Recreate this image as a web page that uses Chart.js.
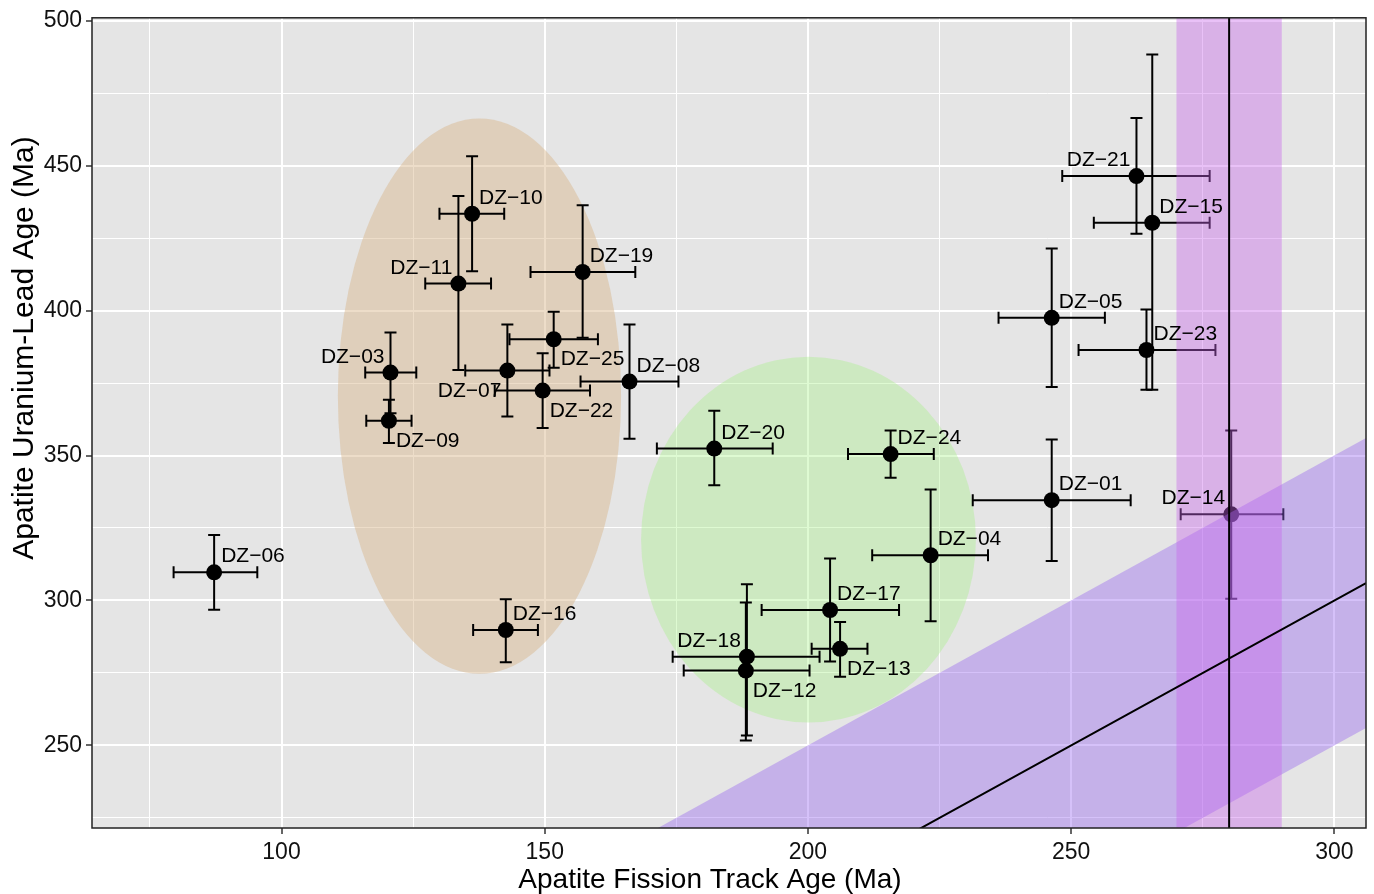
<!DOCTYPE html>
<html>
<head>
<meta charset="utf-8">
<script src="https://cdn.jsdelivr.net/npm/chart.js@4.4.1/dist/chart.umd.min.js"></script>
<style>
  body { margin: 0; background: #fff; }
  canvas { display: block; }
</style>
</head>
<body>
<canvas id="ageChart" width="1374" height="894"></canvas>
<script>
// Sample names and ages (Ma)
const samples = ['DZ−01', 'DZ−03', 'DZ−04', 'DZ−05', 'DZ−06', 'DZ−07', 'DZ−08', 'DZ−09',
                 'DZ−10', 'DZ−11', 'DZ−12', 'DZ−13', 'DZ−14', 'DZ−15', 'DZ−16', 'DZ−17',
                 'DZ−18', 'DZ−19', 'DZ−20', 'DZ−21', 'DZ−22', 'DZ−23', 'DZ−24', 'DZ−25'];
// apatite fission track age with lower / upper error
const aftAge  = [246.3, 120.7, 223.3, 246.3, 87.2, 142.9, 166.1, 120.4, 136.2, 133.6, 188.2, 206.1,
                 280.4, 265.4, 142.6, 204.2, 188.4, 157.2, 182.2, 262.4, 149.6, 264.3, 215.7, 151.7];
const aftLow  = [231.3, 115.9, 212.2, 236.2, 79.5, 134.9, 156.8, 116.1, 130.0, 127.3, 176.4, 200.7,
                 270.8, 254.3, 136.4, 191.2, 174.3, 147.3, 171.3, 248.3, 140.5, 251.4, 207.6, 143.3];
const aftHigh = [261.3, 125.6, 234.2, 256.4, 95.4, 150.9, 175.4, 124.7, 142.3, 139.8, 200.3, 211.3,
                 290.3, 276.3, 148.7, 217.3, 202.2, 167.2, 193.3, 276.3, 158.6, 277.4, 223.9, 160.1];
// apatite U-Pb age with lower / upper error
const upbAge  = [334.6, 378.6, 315.6, 397.5, 309.7, 379.3, 375.5, 362.0, 433.4, 409.3, 275.8, 283.3,
                 329.7, 430.3, 289.8, 296.7, 280.6, 413.3, 352.4, 446.4, 372.4, 386.4, 350.5, 390.1];
const upbLow  = [313.6, 364.6, 292.8, 373.6, 296.8, 363.5, 355.8, 354.3, 413.6, 379.5, 251.7, 273.7,
                 300.6, 372.7, 278.7, 278.9, 253.4, 390.6, 339.7, 426.5, 359.5, 372.7, 342.3, 380.3];
const upbHigh = [355.5, 392.4, 338.3, 421.4, 322.6, 395.2, 395.2, 369.2, 453.2, 439.5, 299.3, 292.6,
                 358.6, 488.3, 300.4, 314.5, 305.6, 436.3, 365.4, 466.4, 385.3, 400.4, 358.6, 399.6];
// which side of the point each name sits on
const labelSide = ['ne', 'nw', 'ne', 'ne', 'ne', 'sw', 'ne', 'se', 'ne', 'nw', 'se', 'se',
                   'nw', 'ne', 'ne', 'ne', 'nw', 'ne', 'ne', 'nw', 'se', 'ne', 'ne', 'se'];

// reference age with its band, and the 1:1 line band width
const refAge = 280;
const refBand = [270, 290];
const oneToOneBand = 50;

// sample groups: [centre AFT, centre U-Pb, half-width AFT, half-height U-Pb]
const groupA = [137.6, 370.5, 26.9, 95.8];
const groupB = [200.1, 321.0, 31.8, 63.1];

const xTicks = [100, 150, 200, 250, 300];
const yTicks = [250, 300, 350, 400, 450, 500];

const FONT = 'Liberation Sans, Arial, Helvetica, sans-serif';

function drawEllipse(ctx, chart, e, colour) {
    const x = chart.scales.x, y = chart.scales.y;
    const cx = x.getPixelForValue(e[0]);
    const cy = y.getPixelForValue(e[1]);
    const rx = Math.abs(x.getPixelForValue(e[0] + e[2]) - cx);
    const ry = Math.abs(y.getPixelForValue(e[1] + e[3]) - cy);
    ctx.fillStyle = colour;
    ctx.beginPath();
    ctx.ellipse(cx, cy, rx, ry, 0, 0, Math.PI * 2);
    ctx.fill();
}

const figurePlugin = {
    id: 'figure',
    beforeDraw(chart) {
        // grey panel
        const { ctx, chartArea: a } = chart;
        ctx.save();
        ctx.fillStyle = '#e5e5e5';
        ctx.fillRect(a.left, a.top, a.right - a.left, a.bottom - a.top);
        ctx.restore();
    },
    beforeDatasetsDraw(chart) {
        const { ctx, chartArea: a } = chart;
        const x = chart.scales.x, y = chart.scales.y;
        ctx.save();
        ctx.beginPath();
        ctx.rect(a.left, a.top, a.right - a.left, a.bottom - a.top);
        ctx.clip();

        // group ellipses
        drawEllipse(ctx, chart, groupA, 'rgba(215, 180, 135, 0.45)');
        drawEllipse(ctx, chart, groupB, 'rgba(160, 240, 125, 0.35)');

        // error bars
        ctx.strokeStyle = '#000';
        ctx.lineWidth = 2;
        const cap = 6;
        for (let i = 0; i < samples.length; i++) {
            const px = x.getPixelForValue(aftAge[i]);
            const py = y.getPixelForValue(upbAge[i]);
            const x0 = x.getPixelForValue(aftLow[i]), x1 = x.getPixelForValue(aftHigh[i]);
            const y0 = y.getPixelForValue(upbLow[i]), y1 = y.getPixelForValue(upbHigh[i]);
            ctx.beginPath();
            ctx.moveTo(x0, py); ctx.lineTo(x1, py);
            ctx.moveTo(x0, py - cap); ctx.lineTo(x0, py + cap);
            ctx.moveTo(x1, py - cap); ctx.lineTo(x1, py + cap);
            ctx.moveTo(px, y0); ctx.lineTo(px, y1);
            ctx.moveTo(px - cap, y0); ctx.lineTo(px + cap, y0);
            ctx.moveTo(px - cap, y1); ctx.lineTo(px + cap, y1);
            ctx.stroke();
        }
        ctx.restore();
    },
    afterDatasetsDraw(chart) {
        const { ctx, chartArea: a } = chart;
        const x = chart.scales.x, y = chart.scales.y;
        ctx.save();
        ctx.beginPath();
        ctx.rect(a.left, a.top, a.right - a.left, a.bottom - a.top);
        ctx.clip();

        // 1:1 band
        const lo = x.min, hi = x.max;
        ctx.fillStyle = 'rgba(150, 100, 240, 0.4)';
        ctx.beginPath();
        ctx.moveTo(x.getPixelForValue(lo), y.getPixelForValue(lo + oneToOneBand));
        ctx.lineTo(x.getPixelForValue(hi), y.getPixelForValue(hi + oneToOneBand));
        ctx.lineTo(x.getPixelForValue(hi), y.getPixelForValue(hi - oneToOneBand));
        ctx.lineTo(x.getPixelForValue(lo), y.getPixelForValue(lo - oneToOneBand));
        ctx.closePath();
        ctx.fill();

        // reference age band
        ctx.fillStyle = 'rgba(200, 100, 235, 0.4)';
        const b0 = x.getPixelForValue(refBand[0]), b1 = x.getPixelForValue(refBand[1]);
        ctx.fillRect(b0, a.top, b1 - b0, a.bottom - a.top);

        // 1:1 line and reference age line
        ctx.strokeStyle = '#000';
        ctx.lineWidth = 2;
        ctx.beginPath();
        ctx.moveTo(x.getPixelForValue(lo), y.getPixelForValue(lo));
        ctx.lineTo(x.getPixelForValue(hi), y.getPixelForValue(hi));
        const rx = x.getPixelForValue(refAge);
        ctx.moveTo(rx, a.top);
        ctx.lineTo(rx, a.bottom);
        ctx.stroke();
        ctx.restore();

        // sample names
        ctx.save();
        ctx.fillStyle = '#000';
        ctx.font = '21px ' + FONT;
        ctx.textBaseline = 'alphabetic';
        for (let i = 0; i < samples.length; i++) {
            const px = x.getPixelForValue(aftAge[i]);
            const py = y.getPixelForValue(upbAge[i]);
            const side = labelSide[i];
            const east = side.indexOf('e') >= 0;
            const north = side.indexOf('n') >= 0;
            ctx.textAlign = east ? 'left' : 'right';
            ctx.fillText(samples[i], px + (east ? 7 : -6), py + (north ? -10 : 26));
        }
        ctx.restore();
    },
    afterDraw(chart) {
        const { ctx, chartArea: a } = chart;
        ctx.save();
        // panel border
        ctx.strokeStyle = '#222';
        ctx.lineWidth = 1.5;
        ctx.strokeRect(a.left, a.top, a.right - a.left, a.bottom - a.top);

        // axis titles
        ctx.fillStyle = '#000';
        ctx.font = '28px ' + FONT;
        ctx.textAlign = 'center';
        ctx.textBaseline = 'alphabetic';
        ctx.fillText('Apatite Fission Track Age (Ma)', 710, 888);

        ctx.font = '30px ' + FONT;
        ctx.translate(33, 348);
        ctx.rotate(-Math.PI / 2);
        ctx.fillText('Apatite Uranium-Lead Age (Ma)', 0, 0);
        ctx.restore();
    }
};

function isMajor(list) {
    return c => c.tick && list.includes(c.tick.value);
}

const majorX = isMajor(xTicks);
const majorY = isMajor(yTicks);

const ctx = document.getElementById('ageChart').getContext('2d');
const ageChart = new Chart(ctx, {
    type: 'scatter',
    data: {
        datasets: [{
            data: aftAge.map((v, i) => ({ x: v, y: upbAge[i] })),
            pointRadius: 8,
            pointHoverRadius: 8,
            pointBackgroundColor: '#000',
            pointBorderWidth: 0
        }]
    },
    options: {
        responsive: false,
        animation: false,
        events: [],
        layout: { padding: { top: 15, right: 4, left: 0, bottom: 0 } },
        plugins: {
            legend: { display: false },
            tooltip: { enabled: false }
        },
        scales: {
            x: {
                type: 'linear',
                min: 64.0,
                max: 306.0,
                afterFit(scale) { scale.height = 66; },
                ticks: {
                    stepSize: 25,
                    includeBounds: false,
                    autoSkip: false,
                    maxRotation: 0,
                    padding: 5,
                    color: '#111',
                    font: { family: FONT, size: 23 },
                    callback: v => xTicks.includes(v) ? v : ''
                },
                grid: {
                    color: '#fff',
                    lineWidth: c => majorX(c) ? 2 : 1,
                    tickLength: 6,
                    tickWidth: 1.5,
                    tickColor: c => majorX(c) ? '#333' : 'rgba(0,0,0,0)'
                },
                border: { display: false }
            },
            y: {
                type: 'linear',
                min: 221.5,
                max: 501,
                afterFit(scale) { scale.width = 92; },
                ticks: {
                    stepSize: 25,
                    includeBounds: false,
                    autoSkip: false,
                    padding: 4,
                    color: '#111',
                    font: { family: FONT, size: 23 },
                    callback: v => yTicks.includes(v) ? v : ''
                },
                grid: {
                    color: '#fff',
                    lineWidth: c => majorY(c) ? 2 : 1,
                    tickLength: 6,
                    tickWidth: 1.5,
                    tickColor: c => majorY(c) ? '#333' : 'rgba(0,0,0,0)'
                },
                border: { display: false }
            }
        }
    },
    plugins: [figurePlugin]
});
</script>
</body>
</html>
